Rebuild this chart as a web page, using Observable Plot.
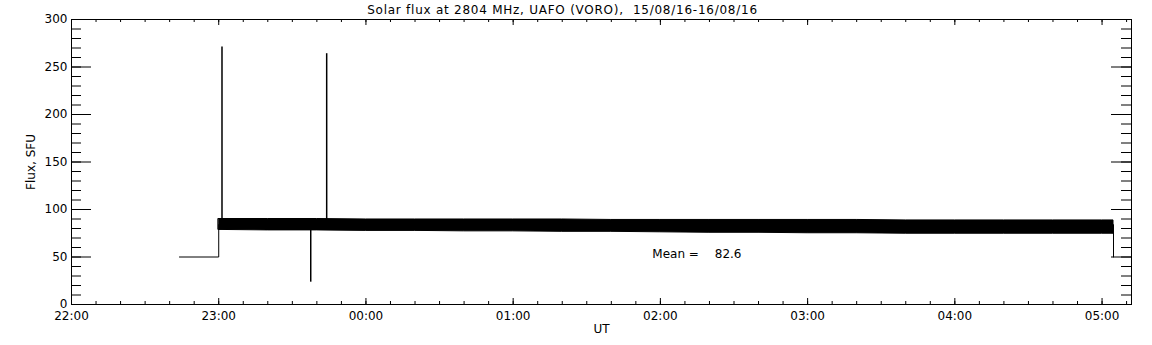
<!DOCTYPE html>
<html><head><meta charset="utf-8">
<script src="https://cdn.jsdelivr.net/npm/d3@7"></script>
<script src="https://cdn.jsdelivr.net/npm/@observablehq/plot@0.6"></script>
<style>body{margin:0;background:#fff} .ttl text{letter-spacing:0.75px}</style>
</head><body><div id="chart"></div>
<script>
// ---- data (UT) ----
const titleText = "Solar flux at 2804 MHz, UAFO (VORO),  15/08/16-16/08/16";
const xLabel = "UT";
const yLabel = "Flux, SFU";
const meanLabel = "Mean =";
const meanValue = 82.6;

// envelope of the dense noisy record (max / min of the samples)
const bandTimes = ["2016-08-15T23:00","2016-08-15T23:20","2016-08-15T23:40","2016-08-16T00:00","2016-08-16T00:20","2016-08-16T00:40","2016-08-16T01:00","2016-08-16T01:20","2016-08-16T01:40","2016-08-16T02:00","2016-08-16T02:20","2016-08-16T02:40","2016-08-16T03:00","2016-08-16T03:20","2016-08-16T03:40","2016-08-16T04:00","2016-08-16T04:20","2016-08-16T04:40","2016-08-16T05:00","2016-08-16T05:04:40"];
const bandUpper = [90, 90, 90, 89.5, 89.5, 89.5, 89.5, 89.5, 89, 89, 89, 89, 89, 89, 88.5, 88.5, 88.5, 88.5, 88.5, 88.5];
const bandLower = [78.5, 78, 78, 77.5, 77.5, 77, 77, 76.5, 76.5, 76, 75.5, 75.5, 75, 75, 74.5, 74.5, 74.5, 74.5, 74.5, 74.5];

// flat calibration level before and after the record
const preTimes = ["2016-08-15T22:44","2016-08-15T23:00","2016-08-15T23:00"];
const preValues = [50, 50, 84];
const postTimes = ["2016-08-16T05:04:40","2016-08-16T05:04:40"];
const postValues = [84, 50];

// single-sample spikes
const spikeTimes = ["2016-08-15T23:01:20","2016-08-15T23:37:30","2016-08-15T23:44:00"];
const spikeFrom = [84, 84, 84];
const spikeTo = [271, 23.5, 264];

const xStart = "2016-08-15T22:00", xEnd = "2016-08-16T05:12";
const yMajorTicks = [0, 50, 100, 150, 200, 250, 300];

// ---- build ----
const T = s => new Date(s + "Z");
const band = bandTimes.map((t, i) => ({t: T(t), hi: bandUpper[i], lo: bandLower[i]}));
const pre = preTimes.map((t, i) => ({t: T(t), v: preValues[i]}));
const post = postTimes.map((t, i) => ({t: T(t), v: postValues[i]}));
const spikes = spikeTimes.map((t, i) => ({t: T(t), a: spikeFrom[i], b: spikeTo[i]}));

const W = 1152, H = 345;
const mL = 71, mR = 21, mT = 19, mB = 41;
const pw = W - mL - mR, ph = H - mT - mB;

const x0 = T(xStart), x1 = T(xEnd);
const xMajor = d3.utcHour.range(x0, new Date(+x1 + 1));
const xMinor = d3.utcMinute.every(10).range(x0, new Date(+x1 + 1));
const yMinor = d3.range(0, 301, 10);

const font = "DejaVu Sans";
const chart = Plot.plot({
  width: W, height: H,
  marginLeft: mL, marginRight: mR, marginTop: mT, marginBottom: mB,
  style: {fontFamily: font, fontSize: "12px", color: "black", background: "white", whiteSpace: "pre", overflow: "visible"},
  x: {type: "utc", domain: [x0, x1]},
  y: {domain: [0, 300]},
  marks: [
    Plot.areaY(band, {x: "t", y1: "lo", y2: "hi", fill: "black", stroke: "black", strokeWidth: 1}),
    Plot.line(pre, {x: "t", y: "v", stroke: "black", strokeWidth: 1}),
    Plot.line(post, {x: "t", y: "v", stroke: "black", strokeWidth: 1}),
    Plot.ruleX(spikes, {x: "t", y1: "a", y2: "b", stroke: "black", strokeWidth: 1.5}),
    Plot.frame({stroke: "black", strokeWidth: 1}),
    // inward ticks, bottom & top
    Plot.ruleX(xMinor, {x: d => d, insetTop: ph - 3, stroke: "black"}),
    Plot.ruleX(xMajor, {x: d => d, insetTop: ph - 6, stroke: "black"}),
    Plot.ruleX(xMinor, {x: d => d, insetBottom: ph - 3, stroke: "black"}),
    Plot.ruleX(xMajor, {x: d => d, insetBottom: ph - 6, stroke: "black"}),
    // inward ticks, left & right
    Plot.ruleY(yMinor, {y: d => d, insetRight: pw - 10, stroke: "black"}),
    Plot.ruleY(yMajorTicks, {y: d => d, insetRight: pw - 20, stroke: "black"}),
    Plot.ruleY(yMinor, {y: d => d, insetLeft: pw - 10, stroke: "black"}),
    Plot.ruleY(yMajorTicks, {y: d => d, insetLeft: pw - 20, stroke: "black"}),
    Plot.axisX({ticks: xMajor, tickSize: 0, tickPadding: 7, tickFormat: d3.utcFormat("%H:%M"), label: null, fontSize: 12, fill: "black"}),
    Plot.axisY({ticks: yMajorTicks, tickSize: 0, tickPadding: 4, label: null, fontSize: 12, fill: "black"}),
    Plot.text([xLabel], {frameAnchor: "bottom", dy: 25, lineAnchor: "middle", fill: "black", fontSize: 12}),
    Plot.text([yLabel], {frameAnchor: "left", dx: -40, rotate: -90, textAnchor: "middle", lineAnchor: "middle", fill: "black", fontSize: 12}),
    Plot.text([titleText], {frameAnchor: "top", dx: -39, dy: -9, lineAnchor: "middle", fill: "black", fontSize: 12, className: "ttl"}),
    Plot.text([meanLabel], {x: () => T("2016-08-16T01:56:43"), y: () => 52.9, textAnchor: "start", lineAnchor: "middle", fill: "black", fontSize: 12}),
    Plot.text([meanValue.toFixed(1)], {x: () => T("2016-08-16T02:22:10"), y: () => 52.9, textAnchor: "start", lineAnchor: "middle", fill: "black", fontSize: 12})
  ]
});
document.getElementById("chart").appendChild(chart);
</script>
</body></html>
